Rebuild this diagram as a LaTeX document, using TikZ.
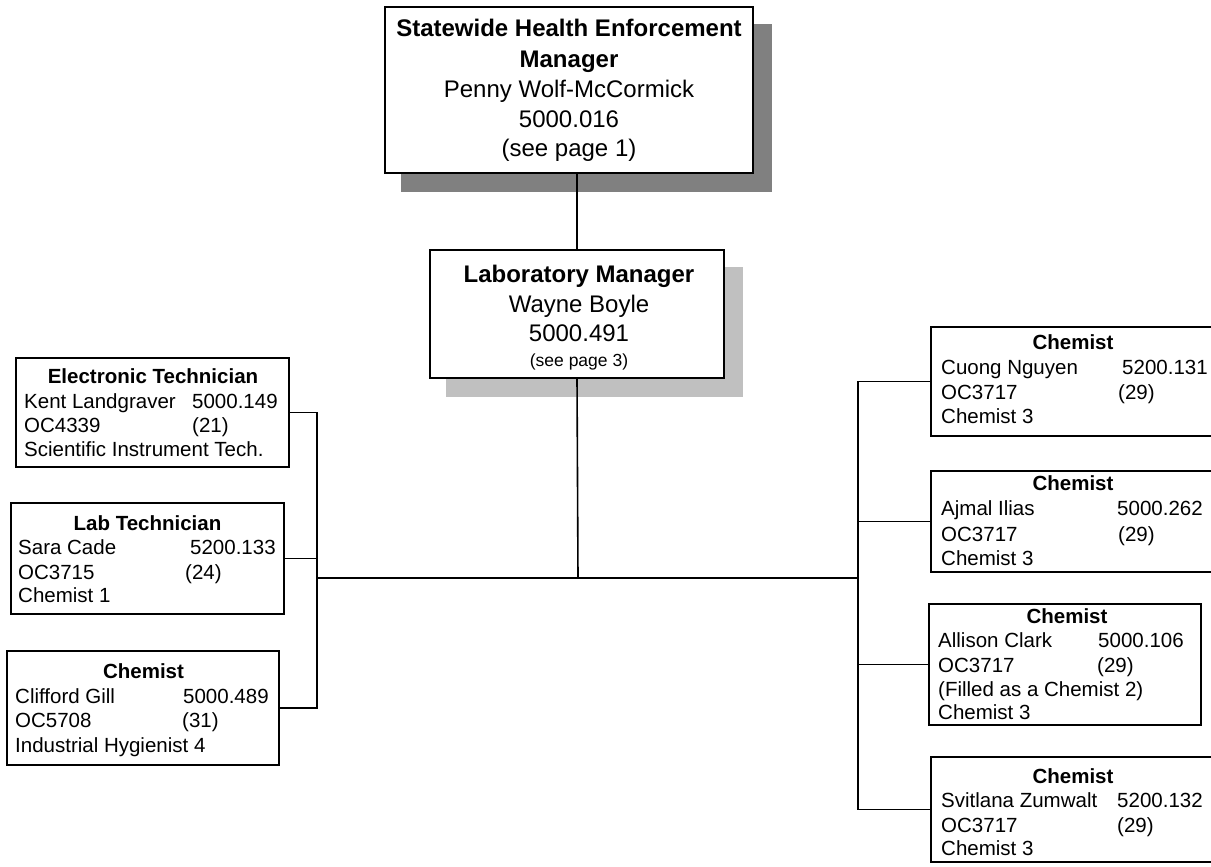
\documentclass[tikz,border=0pt]{standalone}
\usepackage{fontspec}
\setmainfont{Liberation Sans}
\definecolor{shadowdark}{HTML}{808080}
\definecolor{shadowlight}{HTML}{C0C0C0}
\tikzset{
 frame/.style={draw, line width=1.8pt, fill=white, inner sep=0pt, outer sep=0pt},
 conn/.style={line width=1.6pt},
 big/.style={anchor=base, inner sep=0pt, font=\fontsize{24}{28}\selectfont},
 bigb/.style={anchor=base, inner sep=0pt, font=\fontsize{24}{28}\selectfont\bfseries},
 tiny/.style={anchor=base, inner sep=0pt, font=\fontsize{17.5}{20}\selectfont},
 sm/.style={anchor=base west, inner sep=0pt, font=\fontsize{20.5}{24}\selectfont},
 smt/.style={anchor=base, inner sep=0pt, font=\fontsize{20.5}{24}\selectfont\bfseries},
}
\begin{document}
\begin{tikzpicture}[x=1pt,y=-1pt]
\useasboundingbox (0,0) rectangle (1211,867);
\clip (0,0) rectangle (1211,867);
\fill[white] (0,0) rectangle (1211,867);
% shadows
\fill[shadowdark] (401,24) rectangle (772,192);
\fill[shadowlight] (446,267) rectangle (743,397);
% frames
\node[frame, minimum width=368pt, minimum height=166pt] (top) at (569,90) {};
\node[frame, minimum width=294pt, minimum height=128pt] (lm) at (577,314) {};
\node[frame, minimum width=273pt, minimum height=109pt] (et) at (152.5,412.5) {};
\node[frame, minimum width=273pt, minimum height=111pt] (lt) at (147.5,558.5) {};
\node[frame, minimum width=272pt, minimum height=114pt] (cg) at (143,708) {};
\node[frame, minimum width=284pt, minimum height=109pt] (c1) at (1073,381.5) {};
\node[frame, minimum width=284pt, minimum height=101pt] (c2) at (1073,521.5) {};
\node[frame, minimum width=272pt, minimum height=121pt] (c3) at (1065,664.5) {};
\node[frame, minimum width=284pt, minimum height=105pt] (c4) at (1073,809.5) {};
% connector points
\coordinate (hub) at (578,578);
\coordinate (lx) at (317,578);
\coordinate (rx) at (858,578);
% connectors
\draw[conn] (top.south -| lm.north) -- (lm.north);
\draw[conn] (lm.south) -- (hub);
\draw[conn] (lx) -- (rx);
\draw[conn] (et.east) -| (lx) |- (cg.east);
\draw[conn] (lt.east) -- (lt.east -| lx);
\draw[conn] (c1.west) -| (rx) |- (c4.west);
\draw[conn] (c2.west) -- (c2.west -| rx);
\draw[conn] (c3.west) -- (c3.west -| rx);
% top box text
\node[bigb] (top1) at (569,37) {Statewide Health Enforcement};
\node[bigb] (top2) at (569,67) {Manager};
\node[big] (top3) at (569,97) {Penny Wolf-McCormick};
\node[big] (top4) at (569,127) {5000.016};
\node[big] (top5) at (569,157) {(see page 1)};
% lab manager text
\node[bigb] (lm1) at (579,282) {Laboratory Manager};
\node[big] (lm2) at (579,312) {Wayne Boyle};
\node[big] (lm3) at (579,341) {5000.491};
\node[tiny] (lm4) at (579,366) {(see page 3)};
% electronic technician
\node[smt] (et1) at (153,383) {Electronic Technician};
\node[sm] (et2) at (24,408.5) {Kent Landgraver};
\node[sm] (et3) at (192,408.5) {5000.149};
\node[sm] (et4) at (24,432.5) {OC4339};
\node[sm] (et5) at (192,432.5) {(21)};
\node[sm] (et6) at (24,456) {Scientific Instrument Tech.};
% lab technician
\node[smt] (lt1) at (147.5,530) {Lab Technician};
\node[sm] (lt2) at (18,554) {Sara Cade};
\node[sm] (lt3) at (190,554) {5200.133};
\node[sm] (lt4) at (18,579) {OC3715};
\node[sm] (lt5) at (185,579) {(24)};
\node[sm] (lt6) at (18,602) {Chemist 1};
% chemist clifford
\node[smt] (cg1) at (143.5,678) {Chemist};
\node[sm] (cg2) at (15,703) {Clifford Gill};
\node[sm] (cg3) at (183,703) {5000.489};
\node[sm] (cg4) at (15,727) {OC5708};
\node[sm] (cg5) at (182,727) {(31)};
\node[sm] (cg6) at (15,752) {Industrial Hygienist 4};
% chemist 1
\node[smt] (c1a) at (1073,349) {Chemist};
\node[sm] (c1b) at (941,374) {Cuong Nguyen};
\node[sm] (c1c) at (1122,374) {5200.131};
\node[sm] (c1d) at (941,399) {OC3717};
\node[sm] (c1e) at (1118,399) {(29)};
\node[sm] (c1f) at (941,423) {Chemist 3};
% chemist 2
\node[smt] (c2a) at (1073,490) {Chemist};
\node[sm] (c2b) at (941,515) {Ajmal Ilias};
\node[sm] (c2c) at (1117,515) {5000.262};
\node[sm] (c2d) at (941,541) {OC3717};
\node[sm] (c2e) at (1118,541) {(29)};
\node[sm] (c2f) at (941,565) {Chemist 3};
% chemist 3
\node[smt] (c3a) at (1067,623) {Chemist};
\node[sm] (c3b) at (938,647) {Allison Clark};
\node[sm] (c3c) at (1098,647) {5000.106};
\node[sm] (c3d) at (938,672) {OC3717};
\node[sm] (c3e) at (1097,672) {(29)};
\node[sm] (c3f) at (938,696) {(Filled as a Chemist 2)};
\node[sm] (c3g) at (938,719) {Chemist 3};
% chemist 4
\node[smt] (c4a) at (1073,783) {Chemist};
\node[sm] (c4b) at (941,807) {Svitlana Zumwalt};
\node[sm] (c4c) at (1117,807) {5200.132};
\node[sm] (c4d) at (941,832) {OC3717};
\node[sm] (c4e) at (1117,832) {(29)};
\node[sm] (c4f) at (941,855) {Chemist 3};
\end{tikzpicture}
\end{document}
